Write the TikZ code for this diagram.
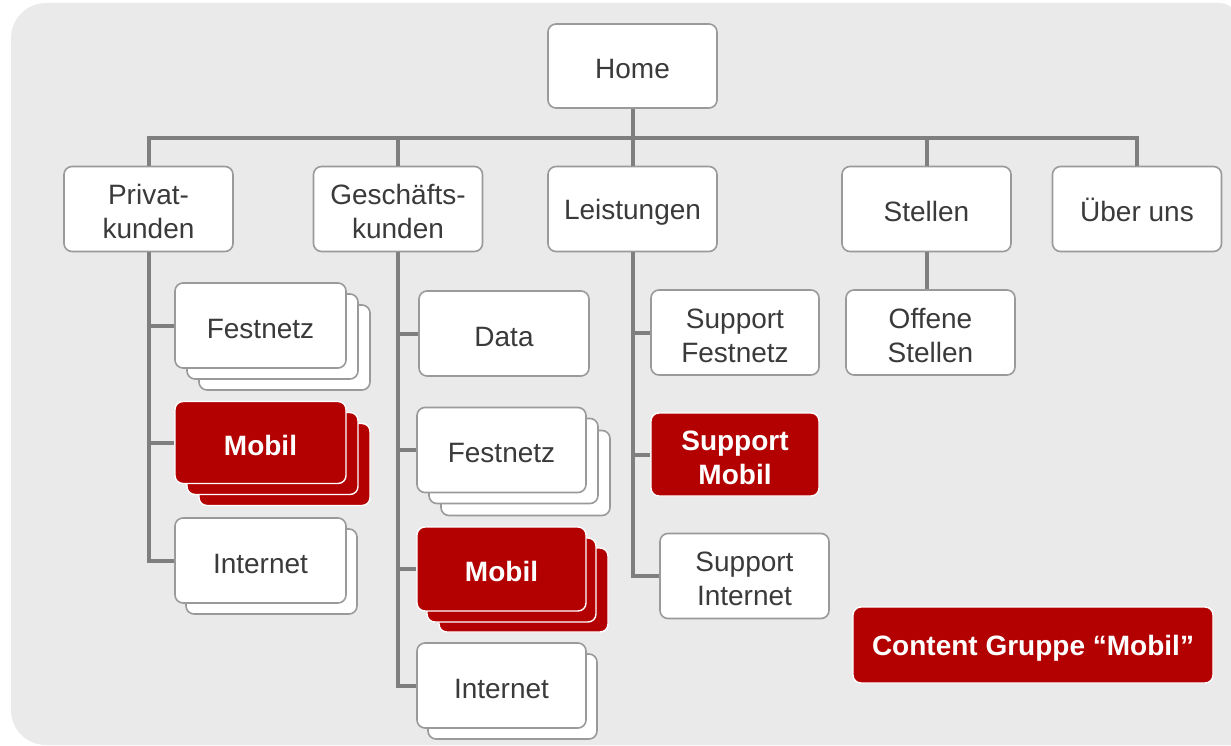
\documentclass[tikz,border=0pt]{standalone}
\usepackage{fontspec}
\setmainfont{Liberation Sans}
\definecolor{bgc}{HTML}{EAEAEA}
\definecolor{bordc}{HTML}{9A9A9A}
\definecolor{connc}{HTML}{7F7F7F}
\definecolor{txtc}{HTML}{3A3A3A}
\definecolor{mred}{HTML}{B30000}
\newcommand{\toppad}{\rule{0pt}{26pt}}
\tikzset{
  wbox/.style={draw=bordc, line width=1.6pt, fill=white, rounded corners=8pt,
    minimum width=169pt, minimum height=85pt, align=center, text=txtc,
    inner sep=0pt, font=\fontsize{28}{34}\selectfont,
    execute at begin node={\toppad}},
  rbox/.style={wbox, fill=mred, draw=white, line width=1.4pt, text=white,
    font=\fontsize{28}{34}\selectfont\bfseries},
  conn/.style={draw=connc, line width=4pt},
}
\begin{document}
\begin{tikzpicture}[x=1pt,y=-1pt]
\useasboundingbox (0,0) rectangle (1231,746);
% background
\fill[bgc] (1240,745) -- (1240,23) .. controls (1240,12) and (1229,3) .. (1220,3)
  -- (46,3) .. controls (26.7,3) and (11,18.7) .. (11,38)
  -- (11,710) .. controls (11,729.3) and (26.7,745) .. (46,745) -- cycle;

% level 0 and 1
\node[wbox, minimum height=84pt] (home) at (632.5,66) {Home};
\node[wbox, minimum height=85pt] (priv) at (148.5,209) {\toppad Privat-\\kunden};
\node[wbox, minimum height=85pt] (gesch) at (398,209) {\toppad Geschäfts-\\kunden};
\node[wbox, minimum height=85pt] (leist) at (632.5,209) {Leistungen};
\node[wbox, minimum height=85pt] (stell) at (926.5,209) {Stellen};
\node[wbox, minimum height=85pt] (ueber) at (1137,209) {Über uns};
\coordinate (bus) at (632.5,138);

% stacked back layers
\node[wbox, minimum width=171pt] (pfest3) at (284.5,347.5) {};
\node[wbox, minimum width=171pt] (pfest2) at (272.5,336.5) {};
\node[rbox, minimum width=171pt, minimum height=82pt] (pmob3) at (284.5,464.5) {};
\node[rbox, minimum width=171pt, minimum height=82pt] (pmob2) at (272.5,453.5) {};
\node[wbox, minimum width=171pt] (pint2) at (271.5,571.5) {};
\node[wbox] (gfest3) at (525.5,473) {};
\node[wbox] (gfest2) at (513.5,461) {};
\node[rbox, minimum height=84pt] (gmob3) at (523.5,590) {};
\node[rbox, minimum height=84pt] (gmob2) at (511.5,580) {};
\node[wbox] (gint2) at (512.5,696.5) {};

% connectors
\draw[conn] (home.south) -- (leist.north);
\draw[conn] (priv.north) |- (bus) -| (ueber.north);
\draw[conn] (gesch.north) -- (gesch.north |- bus);
\draw[conn] (stell.north) -- (stell.north |- bus);

% front level 2 boxes
\node[wbox, minimum width=171pt] (pfest) at (260.5,325.5) {Festnetz};
\node[rbox, minimum width=171pt, minimum height=82pt] (pmob) at (260.5,442.5) {Mobil};
\node[wbox, minimum width=171pt] (pint) at (260.5,560.5) {Internet};

\node[wbox, minimum width=170pt] (gdata) at (504,333.5) {Data};
\node[wbox] (gfest) at (501.5,450) {Festnetz};
\node[rbox, minimum height=84pt] (gmob) at (501.5,569) {Mobil};
\node[wbox] (gint) at (501.5,685.5) {Internet};

\node[wbox, minimum width=168pt] (lsf) at (735,332.5) {\toppad Support\\Festnetz};
\node[rbox, minimum width=168pt, minimum height=83pt] (lsm) at (735,454.5) {\toppad Support\\Mobil};
\node[wbox] (lsi) at (744.5,576) {\toppad Support\\Internet};

\node[wbox] (off) at (930.5,332.5) {\toppad Offene\\Stellen};

\node[rbox, minimum width=360pt, minimum height=76pt] (cg) at (1033,645) {Content Gruppe “Mobil”};

% column connectors
\draw[conn] (priv.south) |- (pfest.west);
\draw[conn] (priv.south) |- (pmob.west);
\draw[conn] (priv.south) |- (pint.west);
\draw[conn] (gesch.south) |- (gdata.west);
\draw[conn] (gesch.south) |- (gfest.west);
\draw[conn] (gesch.south) |- (gmob.west);
\draw[conn] (gesch.south) |- (gint.west);
\draw[conn] (leist.south) |- (lsf.west);
\draw[conn] (leist.south) |- (lsm.west);
\draw[conn] (leist.south) |- (lsi.west);
\draw[conn] (stell.south) -- (stell.south |- off.north);
\end{tikzpicture}
\end{document}
